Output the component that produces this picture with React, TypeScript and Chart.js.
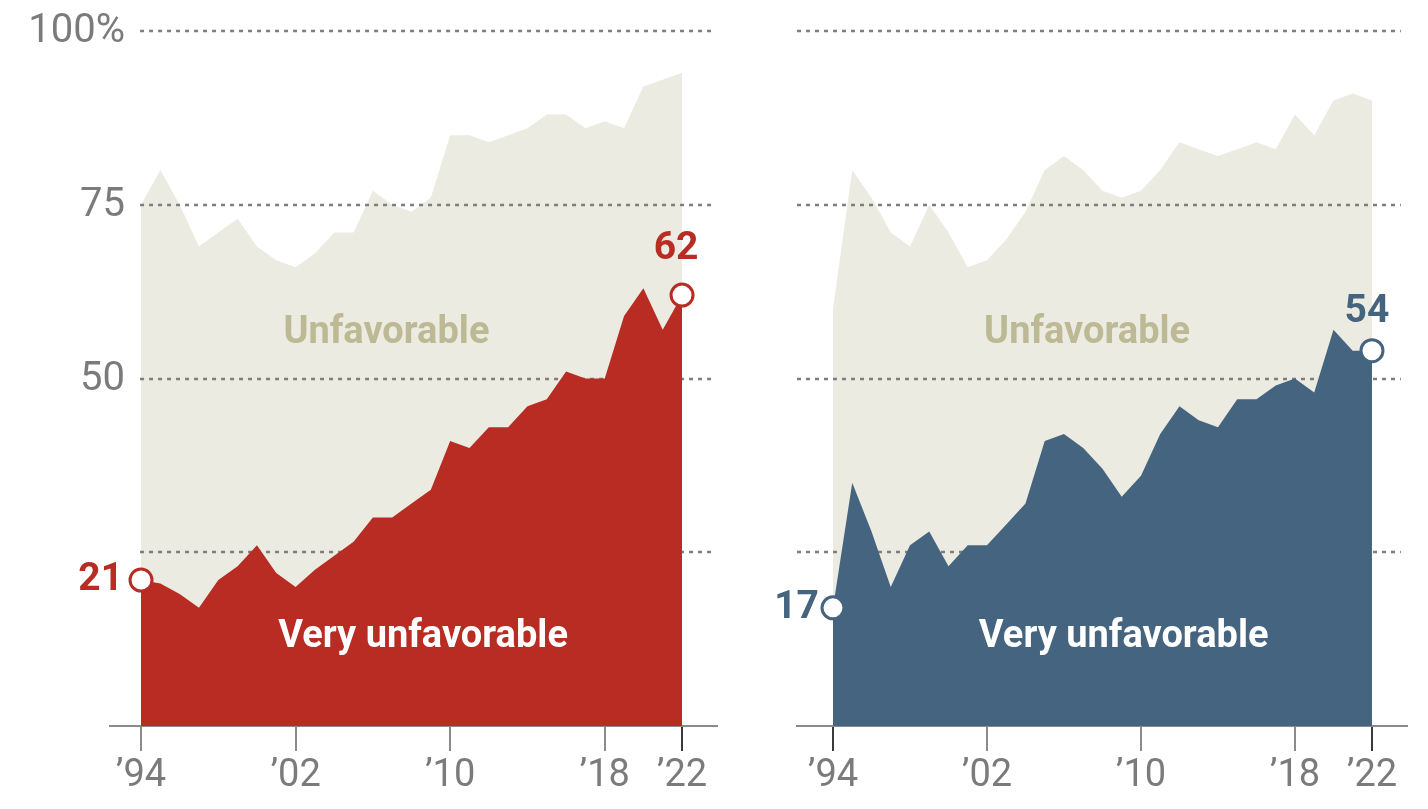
import React, { useEffect, useRef } from "react";
import { Chart, registerables } from "chart.js";

Chart.register(...registerables);

// ---- data ----
const years = [
  1994, 1995, 1996, 1997, 1998, 1999, 2000, 2001, 2002, 2003, 2004, 2005, 2006, 2007, 2008,
  2009, 2010, 2011, 2012, 2013, 2014, 2015, 2016, 2017, 2018, 2019, 2020, 2021, 2022,
];
const repUnfavorable = [
  75, 80, 75, 69, 71, 73, 69, 67, 66, 68, 71, 71, 77, 75, 74,
  76, 85, 85, 84, 85, 86, 88, 88, 86, 87, 86, 92, 93, 94,
];
const repVeryUnfavorable = [
  21, 20.5, 19, 17, 21, 23, 26, 22, 20, 22.5, 24.5, 26.5, 30, 30, 32,
  34, 41, 40, 43, 43, 46, 47, 51, 50, 50, 59, 63, 57, 62,
];
const demUnfavorable = [
  60, 80, 76, 71, 69, 75, 71, 66, 67, 70, 74, 80, 82, 80, 77,
  76, 77, 80, 84, 83, 82, 83, 84, 83, 88, 85, 90, 91, 90,
];
const demVeryUnfavorable = [
  17, 35, 28, 20, 26, 28, 23, 26, 26, 29, 32, 41, 42, 40, 37,
  33, 36, 42, 46, 44, 43, 47, 47, 49, 50, 48, 57, 54, 54,
];
const xTickYears = [1994, 2002, 2010, 2018, 2022];
const xTickLabels = ["\u201994", "\u201902", "\u201910", "\u201918", "\u201922"];
const yGridValues = [25, 50, 75, 100];
const yTickLabels = ["", "50", "75", "100%"];
const areaLabels = ["Unfavorable", "Very unfavorable"];

const FONT = '"Roboto", "Liberation Sans", Arial, sans-serif';
const GRAY = "#7b7b7b";
const BEIGE = "#ecebe1";
const KHAKI = "#bdb995";

type PanelCfg = {
  left: number;
  width: number;
  padLeft: number;
  padRight: number;
  xMin: number;
  xMax: number;
  gridStart: number;
  gridEnd: number;
  showYLabels: boolean;
  unfav: number[];
  very: number[];
  color: string;
  darkTicks: number[];
  unfavLabelAt: [number, number];
  veryLabelAt: [number, number];
  startLabelDx: number;
  endLabelDy: number;
  endLabelDx: number;
};

const panels: PanelCfg[] = [
  {
    left: 0,
    width: 740,
    padLeft: 110,
    padRight: 23,
    xMin: 1992.395,
    xMax: 2023.81,
    gridStart: 1993.95,
    gridEnd: 2023.76,
    showYLabels: true,
    unfav: repUnfavorable,
    very: repVeryUnfavorable,
    color: "#b82c24",
    darkTicks: [2022],
    unfavLabelAt: [2006.7, 56.5],
    veryLabelAt: [2008.6, 12.8],
    startLabelDx: -18,
    endLabelDy: -46,
    endLabelDx: -6,
  },
  {
    left: 740,
    width: 688,
    padLeft: 57,
    padRight: 21,
    xMin: 1992.13,
    xMax: 2023.82,
    gridStart: 1992.13,
    gridEnd: 2023.5,
    showYLabels: false,
    unfav: demUnfavorable,
    very: demVeryUnfavorable,
    color: "#44647f",
    darkTicks: [1994, 2022],
    unfavLabelAt: [2007.2, 56.5],
    veryLabelAt: [2009.1, 12.8],
    startLabelDx: -14,
    endLabelDy: -38,
    endLabelDx: -5,
  },
];

function Panel({ cfg }: { cfg: PanelCfg }) {
  const ref = useRef<HTMLCanvasElement | null>(null);

  useEffect(() => {
    const canvas = ref.current;
    if (!canvas) return;
    const last = years.length - 1;

    const decor = {
      id: "decor",
      afterDatasetDraw(chart: any, args: any) {
        if (args.index !== 1) return;
        const { ctx, scales } = chart;
        const xs = scales.x;
        const ys = scales.y;
        ctx.save();
        ctx.strokeStyle = "#7e7e7e";
        ctx.lineWidth = 2.6;
        ctx.setLineDash([4, 5]);
        const x0 = xs.getPixelForValue(cfg.gridStart);
        const x1 = xs.getPixelForValue(cfg.gridEnd);
        yGridValues.forEach((v) => {
          const y = Math.round(ys.getPixelForValue(v));
          ctx.beginPath();
          ctx.moveTo(x0, y);
          ctx.lineTo(x1, y);
          ctx.stroke();
        });
        ctx.restore();
      },
      afterDatasetsDraw(chart: any) {
        const { ctx, scales } = chart;
        const xs = scales.x;
        const ys = scales.y;
        ctx.save();
        // y tick labels
        if (cfg.showYLabels) {
          ctx.font = `40px ${FONT}`;
          ctx.fillStyle = GRAY;
          ctx.textAlign = "right";
          ctx.textBaseline = "middle";
          yGridValues.forEach((v, i) => {
            if (!yTickLabels[i]) return;
            ctx.fillText(yTickLabels[i], 125, ys.getPixelForValue(v) + 1);
          });
        }
        // area labels
        ctx.font = `bold 38px ${FONT}`;
        ctx.textAlign = "center";
        ctx.textBaseline = "middle";
        ctx.fillStyle = KHAKI;
        ctx.fillText(
          areaLabels[0],
          xs.getPixelForValue(cfg.unfavLabelAt[0]),
          ys.getPixelForValue(cfg.unfavLabelAt[1])
        );
        ctx.fillStyle = "#ffffff";
        ctx.fillText(
          areaLabels[1],
          xs.getPixelForValue(cfg.veryLabelAt[0]),
          ys.getPixelForValue(cfg.veryLabelAt[1])
        );
        // end value labels
        ctx.font = `bold 39px ${FONT}`;
        ctx.fillStyle = cfg.color;
        const sx = xs.getPixelForValue(years[0]);
        const sy = ys.getPixelForValue(cfg.very[0]);
        ctx.textAlign = "right";
        ctx.fillText(String(Math.round(cfg.very[0])), sx + cfg.startLabelDx, sy);
        const ex = xs.getPixelForValue(years[last]);
        const ey = ys.getPixelForValue(cfg.very[last]);
        ctx.textAlign = "center";
        ctx.fillText(String(Math.round(cfg.very[last])), ex + cfg.endLabelDx, ey + cfg.endLabelDy);
        ctx.restore();
      },
    };

    const chart = new Chart(canvas, {
      type: "line",
      data: {
        datasets: [
          {
            label: areaLabels[1],
            data: years.map((y, i) => ({ x: y, y: cfg.very[i] })),
            backgroundColor: cfg.color,
            borderWidth: 0,
            fill: "origin",
            tension: 0,
            pointRadius: (c: any) => (c.dataIndex === 0 || c.dataIndex === last ? 11 : 0),
            pointBackgroundColor: "#ffffff",
            pointBorderColor: cfg.color,
            pointBorderWidth: 3,
          },
          {
            label: areaLabels[0],
            data: years.map((y, i) => ({ x: y, y: cfg.unfav[i] })),
            backgroundColor: BEIGE,
            borderWidth: 0,
            fill: "origin",
            tension: 0,
            pointRadius: 0,
          },
        ],
      },
      options: {
        animation: false,
        responsive: false,
        events: [],
        layout: { padding: { left: cfg.padLeft, right: cfg.padRight, top: 31, bottom: 0 } },
        plugins: { legend: { display: false }, tooltip: { enabled: false } },
        scales: {
          x: {
            type: "linear",
            min: cfg.xMin,
            max: cfg.xMax,
            afterBuildTicks: (scale: any) => {
              scale.ticks = xTickYears.map((v) => ({ value: v }));
            },
            afterFit: (scale: any) => {
              scale.height = 83;
            },
            ticks: {
              autoSkip: false,
              maxRotation: 0,
              padding: 3,
              color: GRAY,
              font: { size: 38, family: FONT },
              callback: (value: any) => {
                const i = xTickYears.indexOf(Number(value));
                return i >= 0 ? xTickLabels[i] : "";
              },
            },
            grid: {
              display: true,
              drawOnChartArea: false,
              drawTicks: true,
              tickLength: 25,
              lineWidth: 2,
              color: (c: any) =>
                c.tick && cfg.darkTicks.includes(c.tick.value) ? "#3a3a3a" : "#8a8a8a",
            },
            border: { display: true, color: "#8a8a8a", width: 2 },
          },
          y: {
            display: false,
            min: 0,
            max: 100,
          },
        },
      },
      plugins: [decor],
    } as any);

    return () => chart.destroy();
  }, [cfg]);

  return (
    <canvas
      ref={ref}
      width={cfg.width}
      height={809}
      style={{ position: "absolute", left: cfg.left, top: 0, width: cfg.width, height: 809 }}
    />
  );
}

export default function App() {
  return (
    <div
      style={{
        position: "fixed",
        left: 0,
        top: 0,
        width: 1428,
        height: 809,
        background: "#ffffff",
        overflow: "hidden",
      }}
    >
      {panels.map((p, i) => (
        <Panel key={i} cfg={p} />
      ))}
    </div>
  );
}
